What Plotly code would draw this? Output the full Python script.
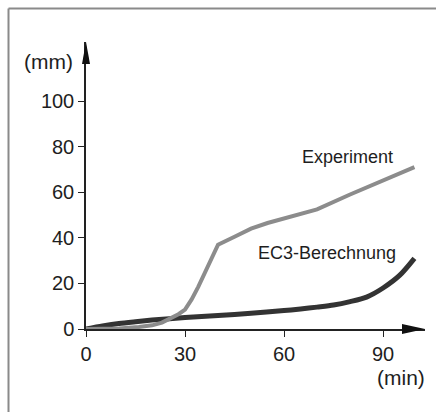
import plotly.graph_objects as go

# ---- data ----
exp_x = [0, 10, 16, 20, 23, 26, 28, 30, 32, 34, 36, 38, 40, 45, 50, 55, 60, 65, 70, 80, 90, 99.5]
exp_y = [0, 0.2, 0.9, 1.6, 2.8, 4.8, 6.5, 8.5, 13, 18.5, 25, 31.5, 37, 40.5, 44, 46.5, 48.5, 50.2, 52.5, 59, 65, 71]
ec3_x = [0, 5, 10, 15, 20, 30, 40, 50, 60, 65, 70, 75, 80, 85, 90, 95, 99.5]
ec3_y = [0, 1.3, 2.4, 3.2, 3.9, 5.0, 5.9, 6.9, 8.1, 8.8, 9.6, 10.5, 12, 14, 18, 23.5, 31]
x_ticks = [0, 30, 60, 90]
y_ticks = [0, 20, 40, 60, 80, 100]
x_label = "(min)"
y_label = "(mm)"
exp_name = "Experiment"
ec3_name = "EC3-Berechnung"

# ---- layout geometry (pixels) ----
W, H = 436, 412
L, R, T, B = 86, 425, 42, 329
XMAX = 102.7
YMAX = 125.9
FONT = "Liberation Sans, Arial, sans-serif"
TXT = "#1e1e1e"

def px(x):
    return (x - L) / (R - L)

def py(y):
    return (B - y) / (B - T)

fig = go.Figure()
fig.add_trace(go.Scatter(x=ec3_x, y=ec3_y, mode="lines",
                         line=dict(color="#333333", width=5, shape="spline", smoothing=0.8),
                         cliponaxis=False, showlegend=False))
fig.add_trace(go.Scatter(x=exp_x, y=exp_y, mode="lines",
                         line=dict(color="#8c8c8c", width=4),
                         cliponaxis=False, showlegend=False))

shapes = []
# arrowheads (paper coordinates so they are not clipped)
shapes.append(dict(type="path", xref="paper", yref="paper",
                   path=(f"M {px(R)},{py(B)} L {px(R-23)},{py(B-5)} "
                         f"L {px(R-23)},{py(B+5)} Z"),
                   fillcolor="#111", line=dict(width=0)))
shapes.append(dict(type="path", xref="paper", yref="paper",
                   path=(f"M {px(L)},{py(T)} L {px(L+4)},{py(T+22)} "
                         f"L {px(L-4)},{py(T+22)} Z"),
                   fillcolor="#111", line=dict(width=0)))
# frame (left and top edges)
shapes.append(dict(type="line", xref="paper", yref="paper",
                   x0=px(8.5), x1=px(8.5), y0=py(8.5), y1=py(H + 5),
                   line=dict(color="#8a8a8a", width=2)))
shapes.append(dict(type="line", xref="paper", yref="paper",
                   x0=px(8.5), x1=px(W + 5), y0=py(8.5), y1=py(8.5),
                   line=dict(color="#8a8a8a", width=2)))

annotations = [
    dict(text=y_label, xref="paper", yref="paper", x=px(75), y=py(61),
         xanchor="right", yanchor="middle", showarrow=False,
         font=dict(family=FONT, size=21, color=TXT)),
    dict(text=x_label, xref="paper", yref="paper", x=px(427), y=py(377),
         xanchor="right", yanchor="middle", showarrow=False,
         font=dict(family=FONT, size=21, color=TXT)),
    dict(text=exp_name, xref="paper", yref="paper", x=px(347), y=py(157),
         xanchor="center", yanchor="middle", showarrow=False,
         font=dict(family=FONT, size=18, color=TXT)),
    dict(text=ec3_name, xref="paper", yref="paper", x=px(327), y=py(253),
         xanchor="center", yanchor="middle", showarrow=False,
         font=dict(family=FONT, size=18, color=TXT)),
]

fig.update_layout(
    width=W, height=H,
    margin=dict(l=L, r=W - R, t=T, b=H - B, pad=0),
    paper_bgcolor="white", plot_bgcolor="white",
    shapes=shapes, annotations=annotations,
    xaxis=dict(range=[0, XMAX], tickvals=x_ticks, ticks="outside", ticklen=6,
               tickwidth=1.2, tickcolor="#222", showline=True, linecolor="#222",
               linewidth=1.5, showgrid=False, zeroline=False, fixedrange=True,
               tickfont=dict(family=FONT, size=20, color=TXT)),
    yaxis=dict(range=[0, YMAX], tickvals=y_ticks, ticks="outside", ticklen=6,
               tickwidth=1.2, tickcolor="#222", showline=True, linecolor="#222",
               linewidth=1.5, showgrid=False, zeroline=False, fixedrange=True,
               tickfont=dict(family=FONT, size=20, color=TXT)),
)

fig.write_html("out.html", config={"displayModeBar": False},
               post_script="document.body.style.margin='0';document.body.style.padding='0';")
